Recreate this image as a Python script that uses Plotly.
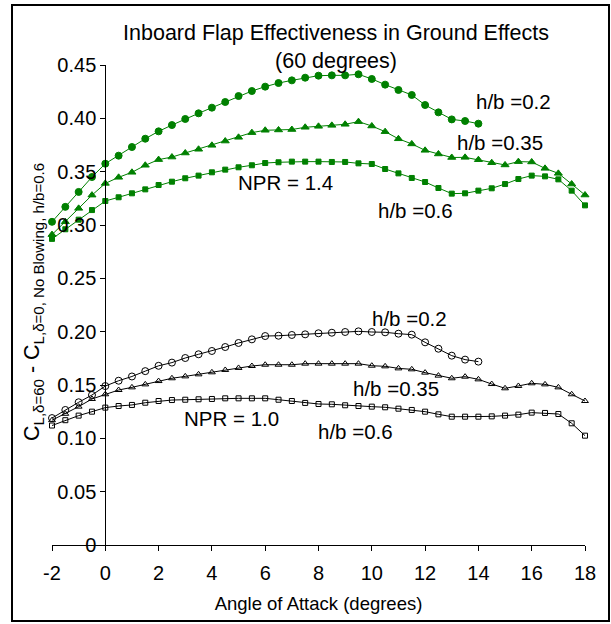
import plotly.graph_objects as go

# ---------------- data ----------------
aoa_full = [-2, -1.5, -1, -0.5, 0, 0.5, 1, 1.5, 2, 2.5, 3, 3.5, 4, 4.5, 5, 5.5, 6, 6.5, 7, 7.5,
            8, 8.5, 9, 9.5, 10, 10.5, 11, 11.5, 12, 12.5, 13, 13.5, 14, 14.5, 15, 15.5, 16,
            16.5, 17, 17.5, 18]
aoa_short = aoa_full[:33]  # -2 .. 14

# NPR = 1.4 (green)
g_hb02 = [0.303, 0.317, 0.331, 0.345, 0.3575, 0.365, 0.3731, 0.3809, 0.3878, 0.3937, 0.3994,
          0.4047, 0.410, 0.4153, 0.4209, 0.4256, 0.4297, 0.4331, 0.4356, 0.4381, 0.440, 0.4403,
          0.4403, 0.4413, 0.4369, 0.4316, 0.4266, 0.4219, 0.4125, 0.4056, 0.399, 0.3975, 0.395]
g_hb035 = [0.291, 0.303, 0.3156, 0.328, 0.339, 0.3447, 0.3494, 0.356, 0.3613, 0.3637, 0.3675,
           0.371, 0.3747, 0.3787, 0.3822, 0.3866, 0.3888, 0.3891, 0.3895, 0.3916, 0.3925, 0.3934,
           0.3944, 0.3969, 0.3928, 0.3875, 0.3808, 0.376, 0.370, 0.3666, 0.3633, 0.3634, 0.3612,
           0.3584, 0.3563, 0.3594, 0.3591, 0.3531, 0.3484, 0.3384, 0.3281]
g_hb06 = [0.287, 0.296, 0.305, 0.314, 0.3225, 0.326, 0.3297, 0.3334, 0.3375, 0.3406, 0.3438,
          0.3463, 0.3494, 0.3519, 0.3541, 0.356, 0.3581, 0.3588, 0.3594, 0.3594, 0.3594, 0.3591,
          0.3591, 0.3578, 0.3572, 0.3525, 0.3484, 0.3441, 0.3403, 0.3347, 0.3294, 0.3297, 0.3322,
          0.3344, 0.3384, 0.3431, 0.3463, 0.3456, 0.3428, 0.3322, 0.3184]

# NPR = 1.0 (black)
k_hb02 = [0.119, 0.1266, 0.1338, 0.1406, 0.149, 0.154, 0.158, 0.163, 0.168, 0.171, 0.1753,
          0.1788, 0.1819, 0.1856, 0.1894, 0.1928, 0.1959, 0.1962, 0.1969, 0.1975, 0.1985, 0.199,
          0.1997, 0.2003, 0.1997, 0.1994, 0.1981, 0.1972, 0.190, 0.184, 0.1775, 0.1738, 0.1719]
k_hb035 = [0.117, 0.123, 0.1297, 0.1369, 0.1413, 0.1453, 0.1478, 0.1506, 0.1537, 0.1563, 0.1581,
           0.160, 0.1619, 0.1641, 0.166, 0.1678, 0.169, 0.169, 0.169, 0.170, 0.170, 0.170, 0.170,
           0.170, 0.1681, 0.1675, 0.1656, 0.1647, 0.1616, 0.1588, 0.1563, 0.1578, 0.1553, 0.1509,
           0.1469, 0.1491, 0.1516, 0.1506, 0.1478, 0.1413, 0.135]
k_hb06 = [0.112, 0.117, 0.1213, 0.125, 0.1288, 0.1303, 0.1313, 0.1334, 0.135, 0.1359, 0.1362,
          0.1366, 0.1369, 0.1375, 0.1375, 0.1375, 0.1375, 0.1362, 0.135, 0.1332, 0.1322, 0.1319,
          0.131, 0.1303, 0.1297, 0.1291, 0.1278, 0.1266, 0.125, 0.1225, 0.1203, 0.1203, 0.1203,
          0.1206, 0.1213, 0.1222, 0.1241, 0.1238, 0.1228, 0.1141, 0.1025]

x_ticks = [-2, 0, 2, 4, 6, 8, 10, 12, 14, 16, 18]
x_ticklabels = ["-2", "0", "2", "4", "6", "8", "10", "12", "14", "16", "18"]
y_ticks = [0, 0.05, 0.10, 0.15, 0.20, 0.25, 0.30, 0.35, 0.40, 0.45]
y_ticklabels = ["0", "0.05", "0.10", "0.15", "0.20", "0.25", "0.30", "0.35", "0.40", "0.45"]

# ---------------- figure ----------------
GREEN = "#008000"
FONT = "Liberation Sans, Arial, sans-serif"
W, H = 611, 624
ML, MR, MT, MB = 52, 26, 65, 79

fig = go.Figure()

def add(xs, ys, color, symbol, size, lw=1):
    fig.add_trace(go.Scatter(
        x=xs, y=ys, mode="lines+markers",
        line=dict(color=color, width=lw),
        marker=dict(symbol=symbol, size=size, color=color,
                    line=dict(color=color, width=1)),
        cliponaxis=False, showlegend=False, hoverinfo="skip"))

add(aoa_short, g_hb02, GREEN, "circle", 7)
add(aoa_full, g_hb035, GREEN, "triangle-up", 7)
add(aoa_full, g_hb06, GREEN, "square", 5)
add(aoa_short, k_hb02, "black", "circle-open", 7)
add(aoa_full, k_hb035, "black", "triangle-up-open", 6)
add(aoa_full, k_hb06, "black", "square-open", 5)

labels = [
    ("h/b =0.2", 15.3, 0.416),
    ("h/b =0.35", 14.8, 0.377),
    ("NPR = 1.4", 6.75, 0.340),
    ("h/b =0.6", 11.65, 0.314),
    ("h/b =0.2", 11.4, 0.2128),
    ("h/b =0.35", 10.9, 0.147),
    ("NPR = 1.0", 4.75, 0.1188),
    ("h/b =0.6", 9.4, 0.106),
]
for txt, lx, ly in labels:
    fig.add_annotation(x=lx, y=ly, xref="x", yref="y", text=txt, showarrow=False,
                       font=dict(family=FONT, size=20.5, color="black"),
                       xanchor="center", yanchor="middle")

pw = W - ML - MR
ph = H - MT - MB

# y-axis title
fig.add_annotation(
    text="C<sub>L,δ=60</sub> - C<sub>L,δ=0, No Blowing, h/b=0.6</sub>",
    xref="paper", yref="paper", x=(33 - ML) / pw, y=(H - MB - 302) / ph,
    textangle=-90, showarrow=False, xanchor="center", yanchor="middle",
    font=dict(family=FONT, size=21.5, color="black"))

# outer frame
fig.add_shape(type="rect", xref="paper", yref="paper",
              x0=(12 - ML) / pw, x1=(609 - ML) / pw,
              y0=(H - MB - 621) / ph, y1=(H - MB - 5) / ph,
              line=dict(color="black", width=2), fillcolor="rgba(0,0,0,0)", layer="above")

fig.update_layout(
    width=W, height=H,
    margin=dict(l=ML, r=MR, t=MT, b=MB, autoexpand=False),
    paper_bgcolor="white", plot_bgcolor="white",
    font=dict(family=FONT, color="black"),
    title=dict(text="Inboard Flap Effectiveness in Ground Effects<br>(60 degrees)",
               x=336 / W, xanchor="center", xref="container",
               y=1 - 40 / H, yanchor="top", yref="container",
               font=dict(family=FONT, size=21.5, color="black")),
    xaxis=dict(range=[-2, 18], tickvals=x_ticks, ticktext=x_ticklabels,
               showline=True, linecolor="black", linewidth=1,
               ticks="outside", ticklen=5, tickcolor="black",
               showgrid=False, zeroline=False, ticklabelstandoff=5,
               tickfont=dict(family=FONT, size=20),
               title=dict(text="Angle of Attack (degrees)", standoff=14,
                          font=dict(family=FONT, size=18.5))),
    yaxis=dict(range=[0, 0.45], tickvals=y_ticks, ticktext=y_ticklabels,
               anchor="free", position=0.1,
               showline=True, linecolor="black", linewidth=1,
               ticks="outside", ticklen=5, tickcolor="black",
               showgrid=False, zeroline=False,
               tickfont=dict(family=FONT, size=20)),
)

fig.write_html("out.html")
